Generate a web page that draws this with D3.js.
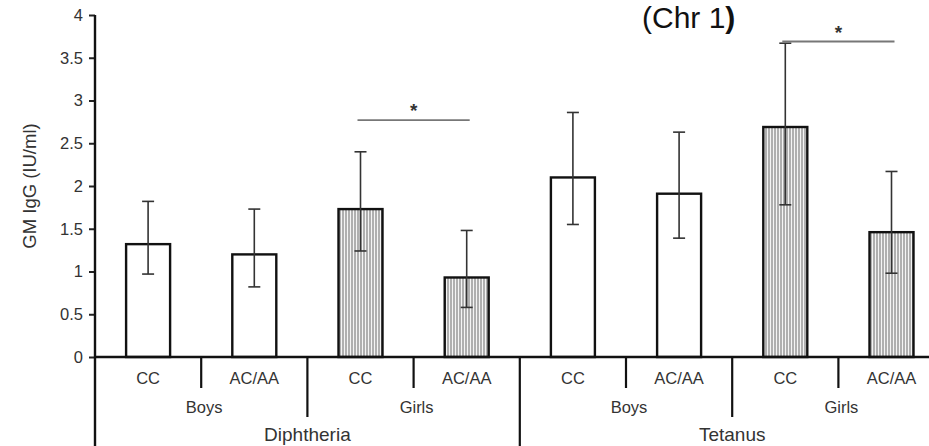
<!DOCTYPE html>
<html>
<head>
<meta charset="utf-8">
<script src="https://cdn.jsdelivr.net/npm/d3@7"></script>
<style>
	body { margin: 0; background: #fff; }
	svg { display: block; }
	.tick text, .lbl { font-family: "Liberation Sans", Arial, sans-serif; fill: #333; }
</style>
</head>
<body>
<svg width="929" height="446"></svg>
<script>
// data
const vaccines = ["Diphtheria", "Tetanus"];
const sexes = ["Boys", "Girls"];
const genotypes = ["CC", "AC/AA"];
const means = [1.32, 1.20, 1.73, 0.93, 2.10, 1.91, 2.69, 1.46];
const upper = [1.82, 1.73, 2.40, 1.48, 2.86, 2.63, 3.67, 2.17];
const lower = [0.97, 0.82, 1.24, 0.58, 1.55, 1.39, 1.78, 0.98];
const hatched = [false, false, true, true, false, false, true, true];
const yTicks = [0, 0.5, 1, 1.5, 2, 2.5, 3, 3.5, 4];
const signif = [[2, 3, 2.77], [6, 7, 3.69]];

const svg = d3.select("svg");
const margin = { top: 15, left: 95 };
const band = 106.2;
const y0 = 357;

const cats = d3.range(means.length);
const x = d3.scaleBand(cats, [margin.left, margin.left + band * cats.length]).paddingInner(0).paddingOuter(0);
const y = d3.scaleLinear([0, 4], [y0, margin.top]);

const defs = svg.append("defs");
const pat = defs.append("pattern")
	.attr("id", "vlines")
	.attr("patternUnits", "userSpaceOnUse")
	.attr("width", 3)
	.attr("height", 10);
pat.append("rect").attr("width", 3).attr("height", 10).attr("fill", "#f4f4f4");
pat.append("line")
	.attr("x1", 1).attr("x2", 1).attr("y1", 0).attr("y2", 10)
	.attr("stroke", "#8a8a8a").attr("stroke-width", 1.3);

// y axis
const yAxis = d3.axisLeft(y).tickValues(yTicks).tickSize(6).tickSizeOuter(0).tickFormat(d3.format("~g"));
const gY = svg.append("g").attr("transform", `translate(${margin.left},0)`).call(yAxis);
gY.select(".domain").remove();
gY.selectAll(".tick line").attr("stroke", "#222").attr("stroke-width", 2);
gY.selectAll(".tick text").attr("font-size", 16.5).attr("x", -12);

svg.append("text")
	.attr("class", "lbl")
	.attr("transform", `translate(36,${(y(4) + y(0)) / 2}) rotate(-90)`)
	.attr("text-anchor", "middle")
	.attr("font-size", 18.5)
	.text("GM IgG (IU/ml)");

// bars
const bw = 44;
svg.append("g").selectAll("rect")
	.data(cats)
	.join("rect")
	.attr("x", i => x(i) + x.bandwidth() / 2 - bw / 2)
	.attr("y", i => y(means[i]))
	.attr("width", bw)
	.attr("height", i => y(0) - y(means[i]))
	.attr("fill", i => hatched[i] ? "url(#vlines)" : "#fff")
	.attr("stroke", "#111")
	.attr("stroke-width", 2.4);

// error bars
const eb = svg.append("g").attr("stroke", "#333").attr("stroke-width", 1.6);
const cx = i => x(i) + x.bandwidth() / 2;
eb.selectAll(".whisker").data(cats).join("line")
	.attr("x1", cx).attr("x2", cx)
	.attr("y1", i => y(upper[i])).attr("y2", i => y(lower[i]));
[upper, lower].forEach(arr => {
	eb.append("g").selectAll("line").data(cats).join("line")
		.attr("x1", i => cx(i) - 6).attr("x2", i => cx(i) + 6)
		.attr("y1", i => y(arr[i])).attr("y2", i => y(arr[i]));
});

// significance
const sg = svg.append("g");
signif.forEach(([a, b, v]) => {
	sg.append("line")
		.attr("x1", cx(a) - 3).attr("x2", cx(b) + 3)
		.attr("y1", y(v)).attr("y2", y(v))
		.attr("stroke", "#777").attr("stroke-width", 1.8);
	sg.append("text")
		.attr("class", "lbl")
		.attr("x", (cx(a) + cx(b)) / 2)
		.attr("y", y(v) - 3)
		.attr("text-anchor", "middle")
		.attr("font-size", 19)
		.attr("font-weight", "bold")
		.text("*");
});

// axes lines
svg.append("line")
	.attr("x1", margin.left).attr("x2", margin.left)
	.attr("y1", y(4)).attr("y2", 446)
	.attr("stroke", "#111").attr("stroke-width", 2.4);
svg.append("line")
	.attr("x1", margin.left).attr("x2", 929)
	.attr("y1", y(0)).attr("y2", y(0))
	.attr("stroke", "#111").attr("stroke-width", 2.4);

// hierarchical x labels
const lab = svg.append("g").attr("font-size", 16.5);
lab.selectAll(".geno").data(cats).join("text")
	.attr("class", "lbl")
	.attr("x", cx)
	.attr("y", y0 + 27)
	.attr("text-anchor", "middle")
	.text(i => genotypes[i % 2]);

const sexIdx = d3.range(vaccines.length * sexes.length);
lab.selectAll(".sex").data(sexIdx).join("text")
	.attr("class", "lbl")
	.attr("x", s => x(2 * s + 1) + 3)
	.attr("y", y0 + 56)
	.attr("text-anchor", "middle")
	.text(s => sexes[s % 2]);

lab.selectAll(".vac").data(d3.range(vaccines.length)).join("text")
	.attr("class", "lbl")
	.attr("x", v => x(4 * v + 2))
	.attr("y", y0 + 84)
	.attr("font-size", 19)
	.attr("text-anchor", "middle")
	.text(v => vaccines[v]);

// separators: between genotypes, sexes, vaccines
const sep = svg.append("g").attr("stroke", "#111").attr("stroke-width", 2.2);
cats.slice(1).forEach(i => {
	const depth = i % 4 === 0 ? 446 : i % 2 === 0 ? y0 + 60 : y0 + 31;
	sep.append("line")
		.attr("x1", x(i)).attr("x2", x(i))
		.attr("y1", y0).attr("y2", depth);
});

// title fragment
svg.append("text")
	.attr("x", 642)
	.attr("y", 28)
	.attr("font-family", "'Liberation Sans', Arial, sans-serif")
	.attr("font-size", 30)
	.attr("fill", "#111")
	.text("(Chr 1")
	.append("tspan")
	.attr("font-weight", "bold")
	.text(")");
</script>
</body>
</html>
